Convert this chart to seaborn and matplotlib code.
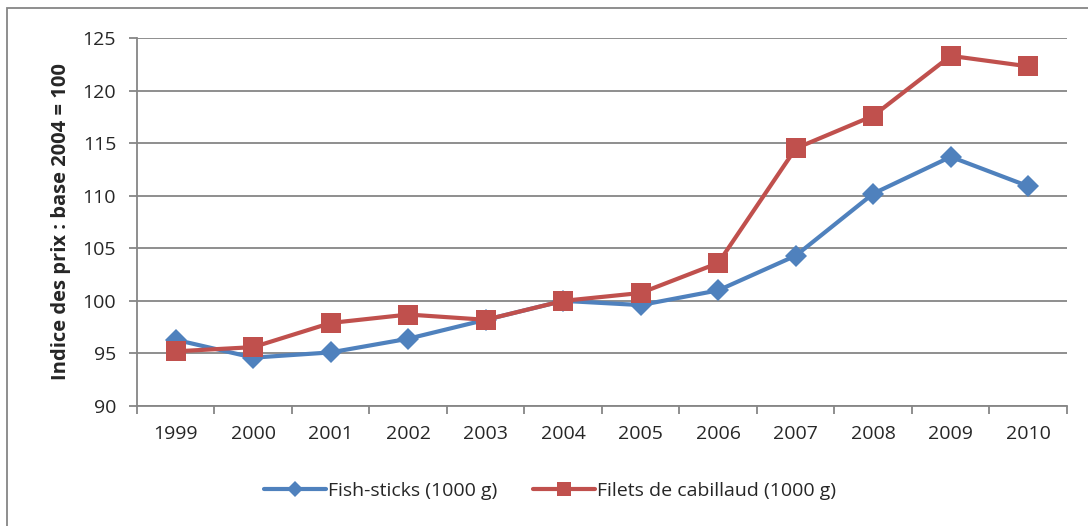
import pandas as pd
import matplotlib.pyplot as plt
import seaborn as sns
from matplotlib.patches import Rectangle

# Données
annees = ["1999", "2000", "2001", "2002", "2003", "2004",
          "2005", "2006", "2007", "2008", "2009", "2010"]
fish_sticks = [96.3, 94.6, 95.1, 96.4, 98.2, 100.0,
               99.6, 101.0, 104.3, 110.2, 113.7, 110.9]
filets_cabillaud = [95.2, 95.6, 97.9, 98.7, 98.2, 100.0,
                    100.75, 103.6, 114.5, 117.6, 123.3, 122.3]

serie1 = "Fish-sticks (1000 g)"
serie2 = "Filets de cabillaud (1000 g)"

df = pd.DataFrame({"Annee": annees, serie1: fish_sticks, serie2: filets_cabillaud})
df_long = df.melt(id_vars="Annee", var_name="Produit", value_name="Indice")

sns.set_style("white")
plt.rcParams['font.family'] = ['Open Sans', 'DejaVu Sans']

fig = plt.figure(figsize=(10.88, 5.26), dpi=100)
ax = fig.add_axes([0.1259, 0.2281, 0.8548, 0.6997])

couleurs = {serie1: "#4F81BD", serie2: "#C0504D"}
marqueurs = {serie1: "D", serie2: "s"}
tailles = {serie1: 11, serie2: 14}

for produit in [serie1, serie2]:
    d = df_long[df_long["Produit"] == produit]
    sns.lineplot(data=d, x="Annee", y="Indice", ax=ax, color=couleurs[produit],
                 marker=marqueurs[produit], markersize=tailles[produit],
                 markeredgewidth=0, linewidth=3, label=produit, sort=False)

ax.set_xlim(-0.5, len(annees) - 0.5)
ax.set_ylim(90, 125)
ax.set_yticks(range(90, 126, 5))
ax.yaxis.grid(True, color="#868686", linewidth=1.3)
ax.xaxis.grid(False)
ax.set_axisbelow(True)

for s in ["top", "right"]:
    ax.spines[s].set_visible(False)
ax.spines["left"].set_color("#868686")
ax.spines["bottom"].set_color("#868686")
ax.spines["left"].set_linewidth(1.3)
ax.spines["bottom"].set_linewidth(1.3)

ax.set_xticks([i - 0.5 for i in range(len(annees) + 1)], minor=False)
ax.set_xticklabels([])
ax.set_xticks(range(len(annees)), minor=True)
ax.set_xticklabels(annees, minor=True)
ax.tick_params(axis="x", which="major", length=6, color="#868686", width=1.3, direction="out")
ax.tick_params(axis="x", which="minor", length=0, labelsize=14, pad=14)
ax.tick_params(axis="y", length=6, color="#868686", width=1.3, direction="out", labelsize=14, pad=9)
ax.yaxis.set_ticks_position("left")
ax.xaxis.set_ticks_position("bottom")

ax.set_xlabel("")
ax.set_ylabel("Indice des prix : base 2004 = 100", fontsize=14.5, fontweight="bold", labelpad=8)

ax.legend(loc="center", bbox_to_anchor=(0.444, -0.231), ncol=2, frameon=False,
          fontsize=14, handlelength=3.2, columnspacing=1.8, handletextpad=0.1,
          markerscale=0.7)

fig.patches.append(Rectangle((7 / 1088, -0.05), 1.1, 1 - 8 / 526 + 0.05,
                             transform=fig.transFigure, fill=False,
                             edgecolor="#868686", linewidth=1.3))

plt.savefig("out.png", dpi=100)
plt.close()
